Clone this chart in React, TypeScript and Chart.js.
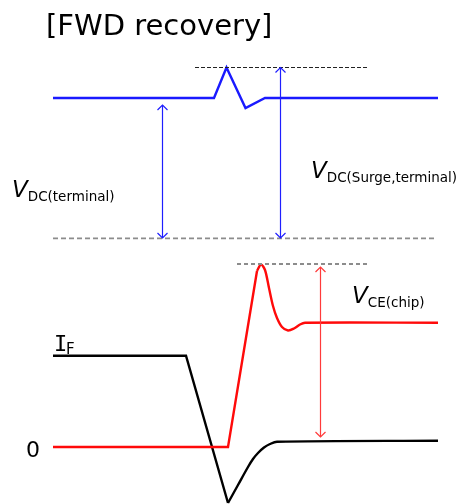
import { useEffect, useRef } from "react";
import { Chart, registerables } from "chart.js";

Chart.register(...registerables);

// Schematic coordinate frame (x: time, y: level, downward-growing like the drawing)
const xRange = [0, 460];
const yRange = [0, 504];

// V_DC(terminal) trace (blue)
const vdcX = [53, 214, 226.5, 245.5, 265, 438];
const vdcY = [98, 98, 67.5, 108, 98, 98];

// V_CE(chip) trace (red): flat, straight rise, then ringing
const vceRiseX = [53, 228, 257];
const vceRiseY = [447, 447, 271];
const vceRingX = [257, 261, 265, 269, 273, 277, 282, 288, 294, 300, 305, 438];
const vceRingY = [271, 264.5, 270, 288, 306, 318, 327, 330.5, 328.5, 324.5, 322.7, 322.7];

// I_F trace (black): flat, fall through zero, reverse recovery
const ifFallX = [53, 186, 228];
const ifFallY = [355.7, 355.7, 503];
const ifRecX = [228, 238, 248, 253, 258, 264, 270, 277, 438];
const ifRecY = [503, 485, 467, 459, 453, 447.5, 444, 441.7, 440.7];

// Reference (dashed) levels
const surgeRefX = [195, 367];
const surgeRefY = [67.5, 67.5];
const baseRefX = [53, 437];
const baseRefY = [238.3, 238.3];
const chipRefX = [237, 367];
const chipRefY = [264, 264];

// Dimension arrows (x, from, to)
const arrowX = [162, 280, 320];
const arrowFrom = [105, 67.5, 267];
const arrowTo = [238, 238, 437];

// Text
const titleText = "[FWD recovery]";
const labelMain = ["V", "V", "V"];
const labelSub = ["DC(terminal)", "DC(Surge,terminal)", "CE(chip)"];
const ifMain = "I";
const ifSub = "F";
const zeroText = "0";

const pts = (xs: number[], ys: number[]) => xs.map((x, i) => ({ x, y: ys[i] }));

export default function App() {
  const ref = useRef<HTMLCanvasElement | null>(null);

  useEffect(() => {
    document.body.style.margin = "0";
    const canvas = ref.current;
    if (!canvas) return;

    const arrowColors = ["#1f1fff", "#1f1fff", "#ff3a3a"];
    const labelPos = [
      { x: 12, y: 197, sy: 201 },
      { x: 311, y: 178, sy: 182 },
      { x: 352, y: 303, sy: 307 },
    ];

    const overlay = {
      id: "overlay",
      afterDatasetsDraw(chart: any) {
        const { ctx } = chart;
        const xs = chart.scales.x;
        const ys = chart.scales.y;
        ctx.save();
        // arrows
        for (let i = 0; i < arrowX.length; i++) {
          const px = Math.round(xs.getPixelForValue(arrowX[i])) + 0.5;
          const p1 = ys.getPixelForValue(arrowFrom[i]);
          const p2 = ys.getPixelForValue(arrowTo[i]);
          ctx.strokeStyle = arrowColors[i];
          ctx.lineWidth = 1.2;
          ctx.beginPath();
          ctx.moveTo(px, p1);
          ctx.lineTo(px, p2);
          ctx.stroke();
          ctx.beginPath();
          ctx.moveTo(px - 5, p1 + 5);
          ctx.lineTo(px, p1);
          ctx.lineTo(px + 5, p1 + 5);
          ctx.stroke();
          ctx.beginPath();
          ctx.moveTo(px - 5, p2 - 5);
          ctx.lineTo(px, p2);
          ctx.lineTo(px + 5, p2 - 5);
          ctx.stroke();
        }
        // title
        ctx.fillStyle = "#000";
        ctx.textBaseline = "alphabetic";
        ctx.textAlign = "left";
        ctx.font = "29px 'DejaVu Sans'";
        ctx.fillText(titleText, 46, 35);
        // V labels
        for (let i = 0; i < labelMain.length; i++) {
          const p = labelPos[i];
          ctx.font = "italic 23px 'DejaVu Sans'";
          ctx.fillText(labelMain[i], p.x, p.y);
          const w = ctx.measureText(labelMain[i]).width;
          ctx.font = "13.5px 'DejaVu Sans'";
          ctx.fillText(labelSub[i], p.x + w, p.sy);
        }
        // I_F
        ctx.font = "22px 'DejaVu Sans Mono'";
        ctx.fillText(ifMain, 54, 351);
        ctx.font = "15px 'DejaVu Sans'";
        ctx.fillText(ifSub, 66, 354);
        // zero
        ctx.font = "22px 'DejaVu Sans'";
        ctx.fillText(zeroText, 26, 457);
        ctx.restore();
      },
    };

    const line = (data: any, color: string, width: number, extra: any = {}) => ({
      data,
      borderColor: color,
      borderWidth: width,
      showLine: true,
      pointRadius: 0,
      pointHoverRadius: 0,
      fill: false,
      tension: 0,
      ...extra,
    });

    const chart = new Chart(canvas, {
      type: "scatter",
      data: {
        datasets: [
          line(pts(surgeRefX, surgeRefY), "#222", 1.2, { borderDash: [4, 2] }),
          line(pts(baseRefX, baseRefY), "#8c8c8c", 1.8, { borderDash: [5, 3] }),
          line(pts(chipRefX, chipRefY), "#8c8c8c", 1.8, { borderDash: [4, 3] }),
          line(pts(vdcX, vdcY), "#1a1aff", 2.4),
          line(pts(vceRiseX, vceRiseY), "#ff0a0a", 2.4),
          line(pts(vceRingX, vceRingY), "#ff0a0a", 2.4, { tension: 0.3 }),
          line(pts(ifFallX, ifFallY), "#000", 2.4),
          line(pts(ifRecX, ifRecY), "#000", 2.4, { tension: 0.3 }),
        ],
      },
      options: {
        responsive: false,
        animation: false,
        events: [],
        layout: { padding: 0 },
        plugins: { legend: { display: false }, tooltip: { enabled: false }, title: { display: false } },
        scales: {
          x: { type: "linear", min: xRange[0], max: xRange[1], display: false },
          y: { type: "linear", min: yRange[0], max: yRange[1], reverse: true, display: false },
        },
        elements: { line: { borderCapStyle: "butt", borderJoinStyle: "miter" } },
      },
      plugins: [overlay],
    });
    return () => chart.destroy();
  }, []);

  return (
    <div style={{ position: "fixed", left: 0, top: 0, width: 460, height: 504, background: "#fff" }}>
      <canvas ref={ref} width={460} height={504} style={{ display: "block", width: 460, height: 504 }} />
    </div>
  );
}
